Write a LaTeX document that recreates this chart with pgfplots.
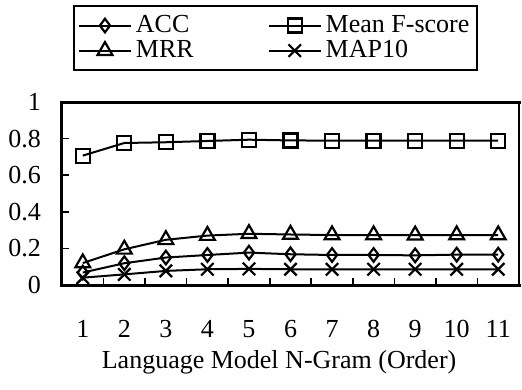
\documentclass[border=0pt]{standalone}
\usepackage{fontspec}
\setmainfont{Liberation Serif}
\usepackage{pgfplots}
\pgfplotsset{compat=1.18}
\begin{document}
\fontsize{13bp}{15bp}\selectfont
\begin{tikzpicture}[font=\fontsize{13bp}{15bp}\selectfont]
\path[use as bounding box] (-31bp,-52.5bp) rectangle (230bp,142.5bp);
\begin{axis}[
  at={(0,0)}, anchor=south west,
  scale only axis, width=228.5bp, height=91.5bp,
  xmin=0.5, xmax=11.5, ymin=0, ymax=1,
  clip=false,
  tick label style={font=\fontsize{13bp}{15bp}\selectfont},
  label style={font=\fontsize{13bp}{15bp}\selectfont},
  /pgf/number format/assume math mode=true,
  axis line style={draw=none},
  xtick={1,...,11},
  minor xtick={1.5,2.5,...,10.5},
  major x tick style={draw=none},
  minor x tick style={line width=0.8bp, black},
  minor tick length=3.5bp,
  ytick={0,0.2,0.4,0.6,0.8,1},
  ytick style={line width=0.8bp, black},
  major tick length=3.5bp,
  tick align=inside,
  xtick pos=bottom, ytick pos=left,
  xticklabel style={yshift=-13bp},
  yticklabel style={xshift=-6bp},
  xlabel={Language Model N-Gram (Order)},
  xlabel style={at={(rel axis cs:0.475,-0.42)}, anchor=center},
  legend columns=2,
  legend cell align=left,
  legend style={at={(rel axis cs:0.024,1.530)}, anchor=north west,
    draw=black, line width=1bp, inner xsep=2bp, inner ysep=2.5bp,
    font=\fontsize{13bp}{15bp}\selectfont,
    /tikz/every even column/.append style={column sep=35bp},
    row sep=-2bp},
  legend image code/.code={%
    \draw[line width=1bp, mark repeat=2, mark phase=2, #1] plot coordinates {(0bp,0bp) (13bp,0bp) (26bp,0bp)};},
  every axis plot/.append style={black, line width=1bp, mark options={solid, line width=1.1bp, fill=none}},
]
\addplot[mark=diamond, mark size=3.4bp] coordinates {
(1,0.068) (2,0.119) (3,0.150) (4,0.164) (5,0.177) (6,0.168) (7,0.164) (8,0.164) (9,0.162) (10,0.166) (11,0.166)};
\addlegendentry{ACC}
\addplot[mark=square, mark size=3.5bp] coordinates {
(1,0.707) (2,0.776) (3,0.780) (4,0.787) (5,0.794) (6,0.790) (7,0.789) (8,0.789) (9,0.789) (10,0.789) (11,0.789)};
\addlegendentry{Mean F-score}
\addplot[mark=triangle, mark size=4.3bp] coordinates {
(1,0.120) (2,0.195) (3,0.247) (4,0.270) (5,0.280) (6,0.276) (7,0.273) (8,0.273) (9,0.272) (10,0.273) (11,0.273)};
\addlegendentry{MRR}
\addplot[mark=x, mark size=4.4bp] coordinates {
(1,0.040) (2,0.058) (3,0.077) (4,0.086) (5,0.088) (6,0.086) (7,0.086) (8,0.086) (9,0.086) (10,0.086) (11,0.086)};
\addlegendentry{MAP10}
\draw[line width=1.5bp, line cap=rect] (rel axis cs:1,1) -- (rel axis cs:0,1) -- (rel axis cs:0,0) -- (rel axis cs:1,0);
\draw[line width=0.8bp] (rel axis cs:1,0) -- (rel axis cs:1,1);
\end{axis}
\end{tikzpicture}
\end{document}
